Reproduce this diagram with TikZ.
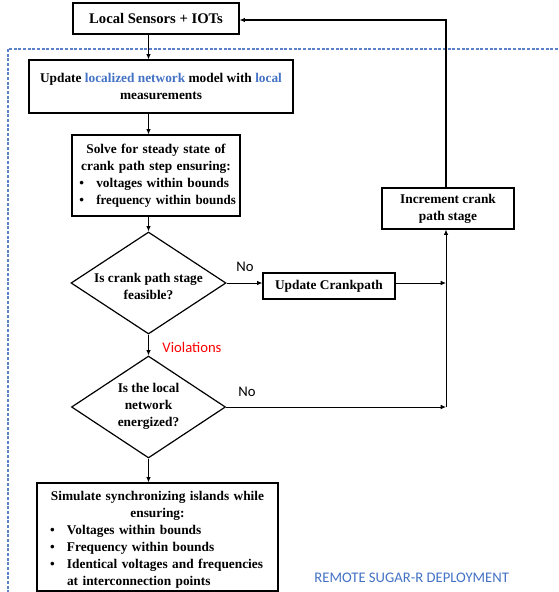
\documentclass[tikz,border=0pt]{standalone}
\usepackage{fontspec}
\setmainfont{Liberation Serif}
\newfontfamily\calib{Carlito}
\usetikzlibrary{shapes.geometric,arrows.meta}
\definecolor{ublue}{HTML}{4472C4}
\definecolor{dblue}{HTML}{5B82C8}
\newcommand\cln[1]{\makebox[\linewidth][c]{#1}}
\newcommand\bitem[3]{\hspace*{#1}\makebox[#2][l]{\textbullet}\makebox[0pt][l]{#3}}
\begin{document}
\begin{tikzpicture}[x=0.75pt,y=-0.75pt,
  box/.style={draw, line width=0.9pt, font=\bfseries\fontsize{10}{12.75}\selectfont, align=center, inner sep=0pt},
  txt/.style={font=\bfseries\fontsize{10}{12.75}\selectfont, align=center, inner sep=0pt},
  dec/.style={draw, diamond, line width=0.9pt, inner sep=0pt},
  arr/.style={-{Latex[length=4pt,width=3.5pt]}, line width=0.7pt},
  lab/.style={font=\calib\fontsize{11}{13}\selectfont, inner sep=0pt}]
\useasboundingbox (0,0) rectangle (558,592);
\begin{scope}
  \clip (0,0) rectangle (558,592);
  \draw[dblue, line width=0.8pt, dash pattern=on 2.2pt off 1.3pt] (8,49) rectangle (580,620);
\end{scope}
% boxes
\node[box, font=\bfseries\fontsize{11}{13}\selectfont, minimum width=124.5pt, minimum height=23.25pt] (ls) at (156,18.5) {Local Sensors + IOTs};
\node[box, minimum width=198pt, minimum height=39.75pt] (upd) at (161,86.5)
  {Update \textcolor{ublue}{localized network} model with \textcolor{ublue}{local}\\measurements};
\node[box, minimum width=126pt, minimum height=60.75pt, text width=126pt, align=left] (solve) at (156,175.5)
  {\cln{Solve for steady state of}\\\cln{crank path step ensuring:}\\
   \bitem{5.5pt}{12.75pt}{voltages within bounds}\\\bitem{5.5pt}{12.75pt}{\addfontfeature{FakeStretch=0.97}frequency within bounds}};
\node[dec, minimum width=116.25pt, minimum height=76.5pt] (d1) at (148.5,283) {};
\node[txt] (d1t) at (148.5,286) {Is crank path stage\\feasible?};
\node[box, minimum width=99pt, minimum height=19.5pt] (uc) at (329,286) {Update Crankpath};
\node[box, minimum width=99pt, minimum height=30.75pt] (inc) at (448,208.5) {Increment crank\\path stage};
\node[dec, minimum width=115.5pt, minimum height=76.5pt] (d2) at (148.5,407) {};
\node[txt] (d2t) at (148.5,406) {Is the local\\network\\energized?};
\node[box, minimum width=180.75pt, minimum height=81pt, text width=180.75pt, align=left] (sim) at (157.5,537)
  {\cln{\rule{0pt}{11.5pt}Simulate synchronizing islands while}\\\cln{ensuring:}\\
   \bitem{9.75pt}{12.75pt}{Voltages within bounds}\\\bitem{9.75pt}{12.75pt}{Frequency within bounds}\\
   \bitem{9.75pt}{12.75pt}{Identical voltages and frequencies}\\\hspace*{22.5pt}at interconnection points};
% labels
\node[lab] (no1) at (245,267) {No};
\node[lab] (no2) at (247,392) {No};
\node[lab, text=red] (viol) at (192,347) {Violations};
\node[lab, text=ublue] (remote) at (411.7,577.7) {REMOTE SUGAR-R DEPLOYMENT};
% junctions
\coordinate (j1) at (446,283);
\coordinate (j2) at (446,407);
\coordinate (tp) at (446,20);
% connectors
\draw[arr] (ls.south -| d1) -- (upd.north -| d1);
\draw[arr] (upd.south -| d1) -- (solve.north -| d1);
\draw[arr] (solve.south -| d1) -- (d1.north);
\draw[arr] (d1.east) -- (uc.west |- d1.east);
\draw[arr] (uc.east |- d1.east) -- (j1);
\draw[arr] (d1.south) -- (d2.north);
\draw[arr] (d2.east) -- (j2);
\draw[arr] (j2) -- (j2 |- inc.south);
\draw[arr, line width=1pt] (j2 |- inc.north) -- (tp) -- (ls.east |- tp);
\draw[arr] (d2.south) -- (sim.north -| d2);
\end{tikzpicture}
\end{document}
